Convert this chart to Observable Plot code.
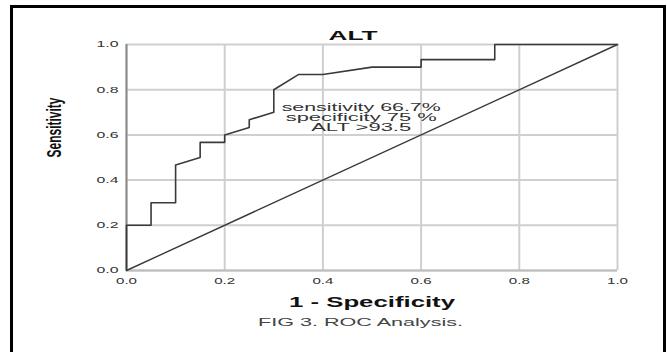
<!DOCTYPE html>
<html>
<head>
<meta charset="utf-8">
<script src="https://cdn.jsdelivr.net/npm/d3@7"></script>
<script src="https://cdn.jsdelivr.net/npm/@observablehq/plot@0.6"></script>
<style>
  html, body { margin: 0; padding: 0; background: #fff; overflow: hidden; }
  #wrap { position: relative; width: 667px; height: 352px; }
  #frame { position: absolute; left: 10px; top: 5px; width: 650px; height: 400px;
           border: 3px solid #000; pointer-events: none; }
</style>
</head>
<body>
<div id="wrap"><div id="chart"></div><div id="frame"></div></div>
<script>
// ROC curve for ALT: 1 - specificity (fpr) and sensitivity (tpr)
const fpr = [0, 0, 0.05, 0.05, 0.10, 0.10, 0.15, 0.15, 0.20, 0.20, 0.25, 0.25, 0.30, 0.30, 0.35, 0.40, 0.50, 0.60, 0.60, 0.75, 0.75, 1.0];
const tpr = [0, 0.20, 0.20, 0.30, 0.30, 0.467, 0.50, 0.567, 0.567, 0.60, 0.633, 0.667, 0.70, 0.80, 0.867, 0.867, 0.90, 0.90, 0.933, 0.933, 1.0, 1.0];
const refX = [0, 1];
const refY = [0, 1];
const tickValues = [0, 0.2, 0.4, 0.6, 0.8, 1.0];
const titleText = "ALT";
const annotationLines = ["sensitivity 66.7%", "specificity 75 %", "ALT >93.5"];
const xTitle = "1 - Specificity";
const yTitle = "Sensitivity";
const captionText = "FIG 3. ROC Analysis.";

const roc = fpr.map((x, i) => ({x, y: tpr[i]}));
const diag = refX.map((x, i) => ({x, y: refY[i]}));

const font = "'Liberation Sans', Arial, sans-serif";

const plot = Plot.plot({
  width: 667,
  height: 352,
  marginLeft: 126,
  marginRight: 50,
  marginTop: 44,
  marginBottom: 82,
  style: {fontFamily: font, background: "#fff", overflow: "visible"},
  x: {domain: [0, 1]},
  y: {domain: [0, 1]},
  marks: [
    Plot.gridX(tickValues, {stroke: "#cfcfcf", strokeOpacity: 1, strokeWidth: 2}),
    Plot.gridY(tickValues, {stroke: "#cfcfcf", strokeOpacity: 1, strokeWidth: 2}),
    Plot.ruleY([0], {stroke: "#bdbdbd", strokeWidth: 2}),
    Plot.ruleX([0], {stroke: "#8a8a8a", strokeWidth: 2}),
    Plot.line(diag, {x: "x", y: "y", stroke: "#3a3a3a", strokeWidth: 1.4}),
    Plot.line(roc, {x: "x", y: "y", stroke: "#3a3a3a", strokeWidth: 1.6}),
    Plot.axisX({ticks: tickValues, tickFormat: d3.format(".1f"), tickSize: 0, tickPadding: 7,
                fontSize: 9, fill: "#333", label: null, className: "xt"}),
    Plot.axisY({ticks: tickValues, tickFormat: d3.format(".1f"), tickSize: 0, tickPadding: 8,
                fontSize: 9, fill: "#333", label: null, className: "yt"}),
    Plot.text([titleText], {frameAnchor: "top", dx: -19, dy: -5, lineAnchor: "bottom",
                fontSize: 13.5, fontWeight: "bold", fill: "#111", className: "ttl"}),
    Plot.text([annotationLines.join("\n")], {x: () => 0.478, y: () => 0.735, textAnchor: "middle",
                lineAnchor: "top", lineHeight: 1.0, fontSize: 10, fill: "#333", className: "ann"}),
    Plot.text([xTitle], {frameAnchor: "bottom", dy: 36, lineAnchor: "bottom",
                fontSize: 15, fontWeight: "bold", fill: "#111", className: "xttl"}),
    Plot.text([yTitle], {frameAnchor: "left", dx: -72, rotate: -90, lineAnchor: "middle",
                fontSize: 20, fontWeight: "bold", fill: "#111", className: "yttl"}),
    Plot.text([captionText], {frameAnchor: "bottom", dx: -11.5, dy: 55, lineAnchor: "bottom",
                fontSize: 10.5, fill: "#444", className: "cap"})
  ]
});

document.getElementById("chart").appendChild(plot);

// Stretch text horizontally to match the reference's wide lettering
const svg = d3.select(plot);
function stretch(sel, len) {
  sel.attr("textLength", len).attr("lengthAdjust", "spacingAndGlyphs");
}
stretch(svg.selectAll(".xt text"), 21);
stretch(svg.selectAll(".yt text"), 22);
stretch(svg.selectAll(".ttl text"), 49);
stretch(svg.selectAll(".xttl text"), 166);
stretch(svg.selectAll(".yttl text"), 60);
stretch(svg.selectAll(".cap text"), 205);
const annWidths = [159, 151, 100];
svg.selectAll(".ann text tspan").each(function(d, i) {
  stretch(d3.select(this), annWidths[i]);
});
</script>
</body>
</html>
